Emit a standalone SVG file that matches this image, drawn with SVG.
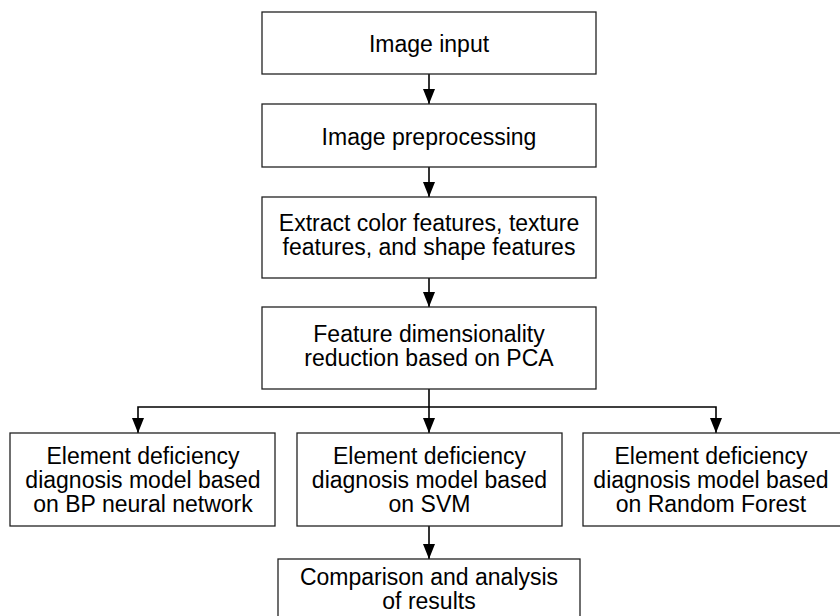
<svg xmlns="http://www.w3.org/2000/svg" width="840" height="616" viewBox="0 0 840 616">
  <defs>
    <style>
      .box { fill: #ffffff; stroke: #222222; stroke-width: 1.3; }
      .lbl { font-family: "Liberation Sans", Arial, sans-serif; font-size: 23px; fill: #000000; text-anchor: middle; }
      .wire { fill: none; stroke: #000000; stroke-width: 1.6; }
    </style>
    <marker id="arrow" viewBox="0 0 15 12" refX="15" refY="6" markerWidth="15" markerHeight="12" markerUnits="userSpaceOnUse" orient="auto">
      <path d="M0,0 L15,6 L0,12 Z" fill="#000000"/>
    </marker>
  </defs>
  <rect width="840" height="616" fill="#ffffff"/>

  <!-- connectors -->
  <g id="connectors">
    <line class="wire" x1="429" y1="74" x2="429" y2="104" marker-end="url(#arrow)"/>
    <line class="wire" x1="429" y1="167" x2="429" y2="197" marker-end="url(#arrow)"/>
    <line class="wire" x1="429" y1="278" x2="429" y2="307" marker-end="url(#arrow)"/>
    <line class="wire" x1="429" y1="389" x2="429" y2="433" marker-end="url(#arrow)"/>
    <polyline class="wire" points="429,407 138,407 138,433" marker-end="url(#arrow)"/>
    <polyline class="wire" points="429,407 716,407 716,433" marker-end="url(#arrow)"/>
    <line class="wire" x1="429" y1="526" x2="429" y2="559" marker-end="url(#arrow)"/>
  </g>

  <g id="image-input">
    <rect class="box" x="262" y="12" width="334" height="62"/>
    <text class="lbl" x="429" y="52">Image input</text>
  </g>

  <g id="image-preprocessing">
    <rect class="box" x="262" y="104" width="334" height="63"/>
    <text class="lbl" x="429" y="145">Image preprocessing</text>
  </g>

  <g id="extract-features">
    <rect class="box" x="262" y="197" width="334" height="81"/>
    <text class="lbl" x="429" y="231">Extract color features, texture</text>
    <text class="lbl" x="429" y="255">features, and shape features</text>
  </g>

  <g id="pca-reduction">
    <rect class="box" x="262" y="307" width="334" height="82"/>
    <text class="lbl" x="429" y="342">Feature dimensionality</text>
    <text class="lbl" x="429" y="366">reduction based on PCA</text>
  </g>

  <g id="model-bp">
    <rect class="box" x="10" y="433" width="265" height="93"/>
    <text class="lbl" x="143" y="464">Element deficiency</text>
    <text class="lbl" x="143" y="488">diagnosis model based</text>
    <text class="lbl" x="143" y="512">on BP neural network</text>
  </g>

  <g id="model-svm">
    <rect class="box" x="297" y="433" width="265" height="93"/>
    <text class="lbl" x="429.5" y="464">Element deficiency</text>
    <text class="lbl" x="429.5" y="488">diagnosis model based</text>
    <text class="lbl" x="429.5" y="512">on SVM</text>
  </g>

  <g id="model-rf">
    <rect class="box" x="583" y="433" width="265" height="93"/>
    <text class="lbl" x="711" y="464">Element deficiency</text>
    <text class="lbl" x="711" y="488">diagnosis model based</text>
    <text class="lbl" x="711" y="512">on Random Forest</text>
  </g>

  <g id="comparison">
    <rect class="box" x="278" y="559" width="302" height="70"/>
    <text class="lbl" x="429" y="585">Comparison and analysis</text>
    <text class="lbl" x="429" y="609">of results</text>
  </g>
</svg>
